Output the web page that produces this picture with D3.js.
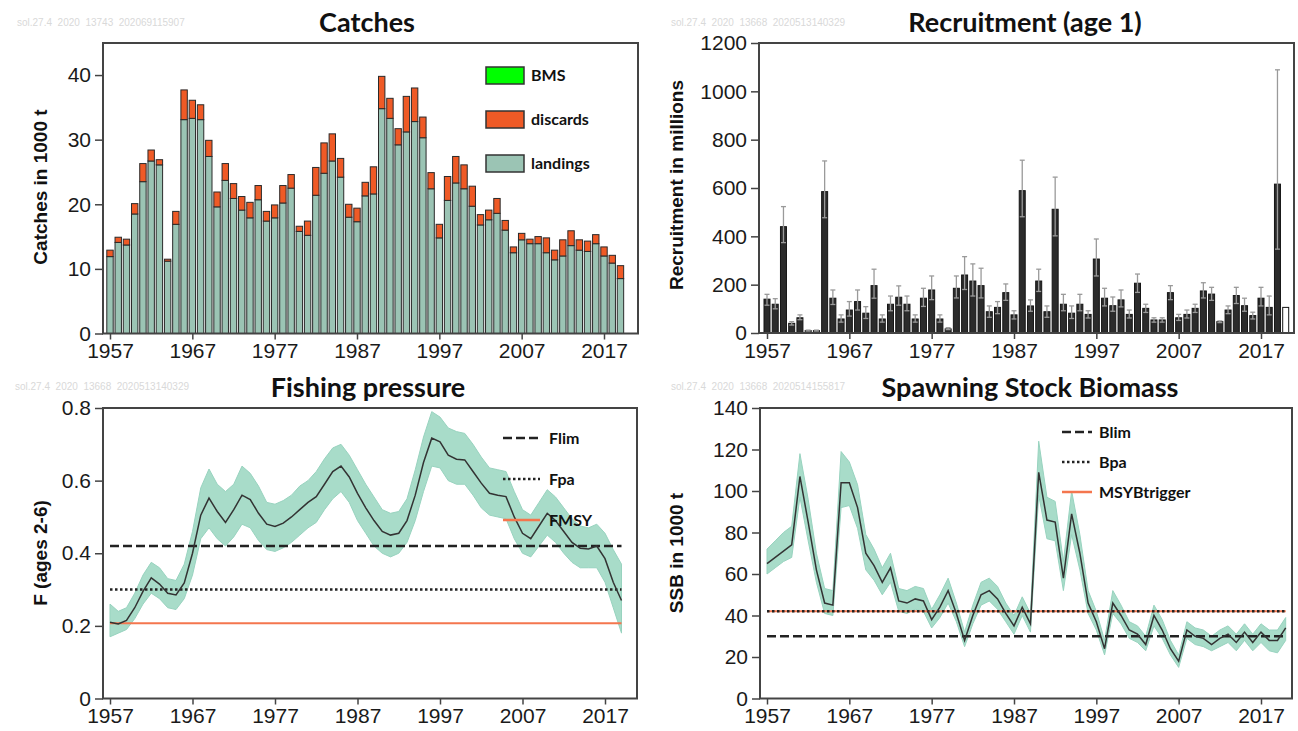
<!DOCTYPE html>
<html><head><meta charset="utf-8">
<script src="https://cdn.jsdelivr.net/npm/d3@7"></script>
<style>
body{margin:0;background:#fff;}
svg{display:block;}
.tick text{font-family:"Liberation Sans Narrow","Arial Narrow","Liberation Sans",Arial,sans-serif;font-size:21px;fill:#1a1a1a;}
.tick line{stroke:#444;stroke-width:1.5;}
.ttl{font-family:Lato,"Open Sans",sans-serif;font-weight:700;font-size:27px;fill:#111;text-anchor:middle;}
.ylab{font-family:"Liberation Sans",Arial,sans-serif;font-weight:700;font-size:19px;fill:#111;text-anchor:middle;}
.leg{font-family:Lato,"Open Sans",sans-serif;font-weight:700;font-size:16px;fill:#111;}
.wm{font-family:"Liberation Sans",Arial,sans-serif;font-size:10px;fill:#d9d9d9;white-space:pre;}
</style></head><body>
<svg id="c" width="1298" height="731"></svg>
<script>
// ---------- categories ----------
const years = d3.range(1957, 2020);          // 1957..2019
const yearsR = d3.range(1957, 2021);         // 1957..2020
const xTicks = [1957, 1967, 1977, 1987, 1997, 2007, 2017];

// ---------- Catches (1000 t) ----------
const landings = [11.9,14.1,13.7,18.5,23.5,26.7,26.1,11.2,16.9,33.1,
                  33.3,33.1,27.4,19.6,23.7,20.9,19.1,17.9,20.7,17.4,
                  17.9,20.2,22.5,15.8,15.2,21.4,24.8,26.7,24.2,18.0,
                  17.3,21.3,21.6,34.8,33.3,29.2,31.2,32.8,30.3,22.4,
                  14.8,20.6,23.3,22.4,19.7,16.8,17.6,18.6,16.0,12.5,
                  14.5,13.9,13.9,12.5,11.4,12.0,13.6,12.9,12.7,13.9,
                  12.0,10.9,8.5];
const discards = [1.0,0.8,0.9,1.6,2.8,1.7,0.8,0.3,2.0,4.6,
                  2.8,2.3,2.5,2.3,2.6,2.3,2.1,2.4,2.2,1.5,
                  2.0,2.7,2.1,0.8,2.2,4.3,4.7,4.2,2.9,2.0,
                  2.1,2.1,4.2,5.0,3.1,2.5,5.5,5.2,3.2,2.5,
                  2.1,3.7,4.1,3.7,3.1,1.6,1.5,2.3,1.5,0.9,
                  1.0,0.7,1.1,2.3,1.5,2.5,2.3,1.6,1.6,1.4,
                  1.4,1.2,2.0];
const bms = [0,0,0,0,0,0,0,0,0,0, 0,0,0,0,0,0,0,0,0,0, 0,0,0,0,0,0,0,0,0,0,
             0,0,0,0,0,0,0,0,0,0, 0,0,0,0,0,0,0,0,0,0, 0,0,0,0,0,0,0,0,0,0, 0,0,0];
const catchTicks = [0,10,20,30,40];

// ---------- Recruitment (millions) ----------
const rec = [140,119,440,40,63,10,10,585,144,58,
             95,130,82,196,58,119,148,119,58,144,
             178,58,17,185,240,215,196,88,106,167,
             75,589,112,215,88,512,119,82,119,77,
             306,144,113,137,77,206,102,54,54,167,
             63,77,102,174,161,47,95,155,113,72,
             144,106,616,106];
const recLow = [115,100,374,33,55,8,8,477,118,45,
                70,95,60,144,45,92,115,92,45,110,
                138,45,14,145,180,153,145,65,80,135,
                58,481,90,172,65,402,92,60,92,62,
                236,112,90,108,62,168,85,45,45,138,
                52,62,85,145,135,43,80,122,90,58,
                112,75,347];
const recHigh = [160,142,523,47,75,12,12,712,178,75,
                 130,178,109,264,75,153,195,153,75,185,
                 236,75,22,236,316,286,268,112,130,203,
                 92,715,137,264,112,645,160,112,160,92,
                 389,185,149,178,95,244,119,63,63,196,
                 77,95,119,208,189,50,112,189,144,86,
                 189,153,1089];
const recTicks = [0,200,400,600,800,1000,1200];

// ---------- Fishing pressure F (ages 2-6) ----------
const fbar = [0.21,0.205,0.215,0.25,0.295,0.332,0.315,0.29,0.285,0.318,
              0.40,0.505,0.552,0.515,0.485,0.52,0.56,0.548,0.51,0.48,
              0.474,0.483,0.50,0.52,0.54,0.556,0.59,0.625,0.64,0.61,
              0.565,0.525,0.49,0.46,0.45,0.455,0.49,0.56,0.65,0.717,
              0.707,0.67,0.659,0.657,0.625,0.593,0.565,0.56,0.556,0.50,
              0.455,0.44,0.475,0.51,0.49,0.46,0.43,0.414,0.412,0.42,
              0.385,0.32,0.27];
const fLow = [0.17,0.18,0.19,0.22,0.26,0.29,0.275,0.25,0.245,0.275,
              0.34,0.44,0.47,0.44,0.42,0.445,0.48,0.47,0.435,0.41,
              0.405,0.415,0.43,0.45,0.47,0.485,0.52,0.55,0.57,0.54,
              0.49,0.455,0.42,0.40,0.39,0.40,0.43,0.49,0.57,0.64,
              0.635,0.60,0.59,0.59,0.56,0.525,0.505,0.50,0.495,0.44,
              0.40,0.39,0.42,0.45,0.43,0.40,0.375,0.36,0.36,0.36,
              0.32,0.25,0.18];
const fHigh = [0.26,0.24,0.25,0.29,0.34,0.375,0.36,0.33,0.325,0.37,
               0.46,0.58,0.632,0.59,0.57,0.59,0.64,0.62,0.585,0.54,
               0.535,0.545,0.56,0.585,0.60,0.625,0.66,0.69,0.70,0.67,
               0.63,0.59,0.555,0.52,0.51,0.515,0.55,0.63,0.72,0.79,
               0.775,0.745,0.735,0.73,0.70,0.665,0.635,0.63,0.625,0.57,
               0.52,0.505,0.54,0.575,0.555,0.525,0.495,0.475,0.47,0.48,
               0.455,0.41,0.37];
const Flim = 0.42, Fpa = 0.30, FMSY = 0.207;
const fTicks = [0,0.2,0.4,0.6,0.8];

// ---------- SSB (1000 t) ----------
const ssb = [65,68,71,74,107,85,62,46,45,104,
             104,92,70,64,56,63,47,46,48,47,
             38,44,52,41,28,40,50,52,48,41,
             35,44,36,109,86,85,58,89,70,46,
             37,24,46,40,33,31,26,40,33,24,
             18,33,30,29,26,29,31,27,32,27,
             32,28,28,34];
const ssbHigh = [72,76,80,83,118,96,70,53,52,119,
                 114,103,79,72,63,70,53,52,54,53,
                 43,50,58,46,32,45,56,58,54,46,
                 40,49,41,124,97,95,66,100,79,52,
                 42,28,52,45,37,35,30,45,38,28,
                 21,37,34,33,30,33,35,31,36,31,
                 36,33,33,39];
const ssbLow = [60,63,66,68,97,76,56,41,40,92,
                93,82,62,57,50,56,42,41,43,42,
                34,39,46,37,25,36,45,47,43,37,
                31,40,32,98,77,76,52,79,62,41,
                33,21,41,36,29,27,23,35,29,21,
                15,29,26,25,23,25,27,23,28,23,
                27,23,22,28];
const Blim = 30, Bpa = 42, MSYBtrigger = 42;
const ssbTicks = [0,20,40,60,80,100,120,140];

// ---------- drawing ----------
const svg = d3.select('#c');
const BOXC = '#444';
const BAND = '#a8dcc9';

function axes(g, x, y, yTicks, yFmt, left, bottom) {
  const ya = g.append('g').attr('transform', `translate(${left},0)`)
    .call(d3.axisLeft(y).tickValues(yTicks).tickFormat(yFmt).tickSize(8).tickPadding(4));
  ya.select('.domain').remove();
  const xa = g.append('g').attr('transform', `translate(0,${bottom})`)
    .call(d3.axisBottom(x).tickValues(xTicks).tickFormat(d3.format('d')).tickSize(6).tickPadding(4));
  xa.select('.domain').remove();
}
function box(g, x0, y0, x1, y1) {
  g.append('rect').attr('x', x0).attr('y', y0).attr('width', x1 - x0).attr('height', y1 - y0)
    .attr('fill', 'none').attr('stroke', BOXC).attr('stroke-width', 2);
}
function wm(txt, x, y) { svg.append('text').attr('class', 'wm').attr('x', x).attr('y', y).text(txt); }
function title(txt, x, y) { svg.append('text').attr('class', 'ttl').attr('x', x).attr('y', y).text(txt); }
function ylab(txt, x, y) { svg.append('text').attr('class', 'ylab').attr('transform', `translate(${x},${y}) rotate(-90)`).text(txt); }

// ===== Panel 1: Catches =====
{
  const g = svg.append('g');
  const x = d3.scaleLinear().domain([1957, 2017]).range([110, 604]);
  const y = d3.scaleLinear().domain([0, 45]).range([333.5, 42.75]);
  const table = years.map((yr, i) => ({year: yr, landings: landings[i], discards: discards[i], BMS: bms[i]}));
  const keys = ['landings', 'discards', 'BMS'];
  const colors = {landings: '#9bc4b4', discards: '#ef5a26', BMS: '#00ff00'};
  const st = d3.stack().keys(keys)(table);
  st.forEach(layer => {
    g.append('g').selectAll('rect').data(layer.filter(d => d[1] - d[0] > 0)).join('rect')
      .attr('x', d => x(d.data.year) - 3.2).attr('width', 6.4)
      .attr('y', d => y(d[1])).attr('height', d => y(d[0]) - y(d[1]))
      .attr('fill', colors[layer.key]).attr('stroke', '#2a2a2a').attr('stroke-width', 1);
  });
  box(g, 103, 43, 638, 333.5);
  axes(g, x, y, catchTicks, d3.format('d'), 103, 333.5);
  // legend
  const leg = [['BMS', 'BMS'], ['discards', 'discards'], ['landings', 'landings']];
  leg.forEach((l, i) => {
    const yy = 67 + i * 44;
    g.append('rect').attr('x', 486).attr('y', yy).attr('width', 38).attr('height', 17)
      .attr('fill', colors[l[0]]).attr('stroke', '#333').attr('stroke-width', 1.5);
    g.append('text').attr('class', 'leg').attr('x', 531).attr('y', yy + 14).text(l[1]);
  });
  title('Catches', 367, 32);
  ylab('Catches in 1000 t', 47, 187);
  wm('sol.27.4  2020  13743  202069115907', 17, 26);
}

// ===== Panel 2: Recruitment =====
{
  const g = svg.append('g');
  const x = d3.scaleLinear().domain([1957, 2017]).range([767, 1261]);
  const y = d3.scaleLinear().domain([0, 1200]).range([333, 43]);
  const last = yearsR.length - 1;
  g.append('g').selectAll('rect').data(yearsR).join('rect')
    .attr('x', d => x(d) - 3).attr('width', 6)
    .attr('y', (d, i) => y(rec[i])).attr('height', (d, i) => y(0) - y(rec[i]))
    .attr('fill', (d, i) => i === last ? '#fff' : '#2b2b2b')
    .attr('stroke', '#151515').attr('stroke-width', 1);
  const eb = g.append('g').attr('stroke', '#9a9a9a').attr('stroke-width', 1.3);
  years.forEach((yr, i) => {
    const cx = x(yr);
    eb.append('line').attr('x1', cx).attr('x2', cx).attr('y1', y(recLow[i])).attr('y2', y(recHigh[i]));
    eb.append('line').attr('x1', cx - 2.5).attr('x2', cx + 2.5).attr('y1', y(recHigh[i])).attr('y2', y(recHigh[i]));
    eb.append('line').attr('x1', cx - 2.5).attr('x2', cx + 2.5).attr('y1', y(recLow[i])).attr('y2', y(recLow[i]));
  });
  box(g, 759, 43, 1294, 333);
  axes(g, x, y, recTicks, d3.format('d'), 759, 333);
  title('Recruitment (age 1)', 1025, 32);
  ylab('Recruitment in millions', 683, 185);
  wm('sol.27.4  2020  13668  2020513140329', 671, 26);
}

// ===== Panel 3: Fishing pressure =====
{
  const g = svg.append('g');
  const x = d3.scaleLinear().domain([1957, 2017]).range([110, 605]);
  const y = d3.scaleLinear().domain([0, 0.8]).range([698.5, 408]);
  const area = d3.area().x((d, i) => x(years[i])).y0((d, i) => y(fLow[i])).y1((d, i) => y(fHigh[i]));
  g.append('path').datum(fbar).attr('d', area).attr('fill', BAND).attr('stroke', '#98d3bf').attr('stroke-width', 1);
  const x0 = x(1957), x1 = x(2019);
  g.append('line').attr('x1', x0).attr('x2', x1).attr('y1', y(FMSY)).attr('y2', y(FMSY)).attr('stroke', '#f4764e').attr('stroke-width', 2);
  g.append('line').attr('x1', x0).attr('x2', x1).attr('y1', y(Fpa)).attr('y2', y(Fpa)).attr('stroke', '#222').attr('stroke-width', 2.5).attr('stroke-dasharray', '2.5,2.5');
  g.append('line').attr('x1', x0).attr('x2', x1).attr('y1', y(Flim)).attr('y2', y(Flim)).attr('stroke', '#222').attr('stroke-width', 2.5).attr('stroke-dasharray', '9,4');
  const line = d3.line().x((d, i) => x(years[i])).y(d => y(d));
  g.append('path').datum(fbar).attr('d', line).attr('fill', 'none').attr('stroke', '#333').attr('stroke-width', 1.5);
  box(g, 103, 408, 637, 698.5);
  axes(g, x, y, fTicks, d => d === 0 ? '0' : d.toFixed(1), 103, 698.5);
  // legend
  const lg = [['Flim', '#222', '9,4', 438], ['Fpa', '#222', '2.5,2.5', 479], ['FMSY', '#f4764e', null, 520]];
  lg.forEach(l => {
    const ln = g.append('line').attr('x1', 503).attr('x2', 540).attr('y1', l[3]).attr('y2', l[3])
      .attr('stroke', l[1]).attr('stroke-width', l[2] ? 2.5 : 2.5);
    if (l[2]) ln.attr('stroke-dasharray', l[2]);
    g.append('text').attr('class', 'leg').attr('x', 549).attr('y', l[3] + 6).text(l[0]);
  });
  title('Fishing pressure', 368, 397);
  ylab('F (ages 2-6)', 47, 553);
  wm('sol.27.4  2020  13668  2020513140329', 15, 390);
}

// ===== Panel 4: SSB =====
{
  const g = svg.append('g');
  const x = d3.scaleLinear().domain([1957, 2017]).range([767, 1261]);
  const y = d3.scaleLinear().domain([0, 140]).range([698.5, 408]);
  const area = d3.area().x((d, i) => x(yearsR[i])).y0((d, i) => y(ssbLow[i])).y1((d, i) => y(ssbHigh[i]));
  g.append('path').datum(ssb).attr('d', area).attr('fill', BAND).attr('stroke', '#98d3bf').attr('stroke-width', 1);
  const x0 = x(1957), x1 = x(2020);
  g.append('line').attr('x1', x0).attr('x2', x1).attr('y1', y(MSYBtrigger)).attr('y2', y(MSYBtrigger)).attr('stroke', '#f4764e').attr('stroke-width', 2);
  g.append('line').attr('x1', x0).attr('x2', x1).attr('y1', y(Bpa)).attr('y2', y(Bpa)).attr('stroke', '#222').attr('stroke-width', 2.5).attr('stroke-dasharray', '2.5,2.5');
  g.append('line').attr('x1', x0).attr('x2', x1).attr('y1', y(Blim)).attr('y2', y(Blim)).attr('stroke', '#222').attr('stroke-width', 2.5).attr('stroke-dasharray', '9,4');
  const line = d3.line().x((d, i) => x(yearsR[i])).y(d => y(d));
  g.append('path').datum(ssb).attr('d', line).attr('fill', 'none').attr('stroke', '#333').attr('stroke-width', 1.5);
  box(g, 760, 408, 1292, 698.5);
  axes(g, x, y, ssbTicks, d3.format('d'), 760, 698.5);
  const lg = [['Blim', '#222', '9,4', 432], ['Bpa', '#222', '2.5,2.5', 462], ['MSYBtrigger', '#f4764e', null, 492]];
  lg.forEach(l => {
    const ln = g.append('line').attr('x1', 1062).attr('x2', 1092).attr('y1', l[3]).attr('y2', l[3])
      .attr('stroke', l[1]).attr('stroke-width', 2.5);
    if (l[2]) ln.attr('stroke-dasharray', l[2]);
    g.append('text').attr('class', 'leg').attr('x', 1099).attr('y', l[3] + 6).text(l[0]);
  });
  title('Spawning Stock Biomass', 1030, 397);
  ylab('SSB in 1000 t', 683, 553);
  wm('sol.27.4  2020  13668  2020514155817', 671, 390);
}
</script>
</body></html>
